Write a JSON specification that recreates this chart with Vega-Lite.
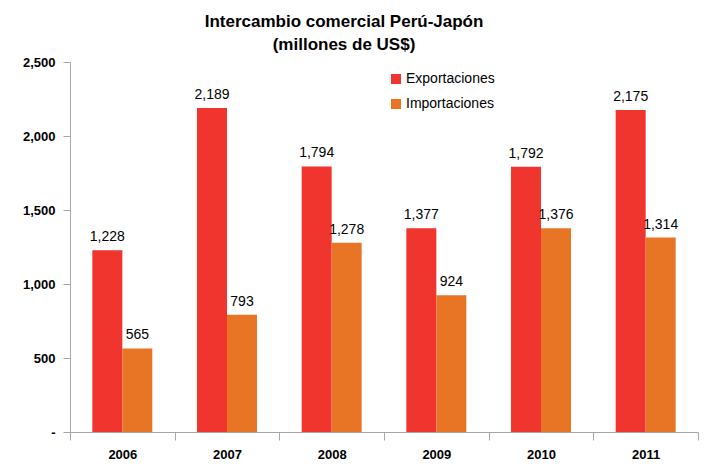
{
  "$schema": "https://vega.github.io/schema/vega-lite/v6.json",
  "autosize": "none",
  "width": 628,
  "height": 370,
  "padding": {"left": 70, "top": 62, "right": 29, "bottom": 36},
  "background": "white",
  "config": {
    "font": "Liberation Sans",
    "view": {"stroke": null}
  },
  "title": {
    "text": ["Intercambio comercial Perú-Japón", "(millones de US$)"],
    "fontSize": 17,
    "fontWeight": "bold",
    "color": "#000000",
    "anchor": "middle",
    "frame": "group",
    "dx": -40,
    "offset": 2,
    "lineHeight": 23
  },
  "data": {
    "values": [
      {"year": "2006", "tipo": "Exportaciones", "valor": 1228},
      {"year": "2006", "tipo": "Importaciones", "valor": 565},
      {"year": "2007", "tipo": "Exportaciones", "valor": 2189},
      {"year": "2007", "tipo": "Importaciones", "valor": 793},
      {"year": "2008", "tipo": "Exportaciones", "valor": 1794},
      {"year": "2008", "tipo": "Importaciones", "valor": 1278},
      {"year": "2009", "tipo": "Exportaciones", "valor": 1377},
      {"year": "2009", "tipo": "Importaciones", "valor": 924},
      {"year": "2010", "tipo": "Exportaciones", "valor": 1792},
      {"year": "2010", "tipo": "Importaciones", "valor": 1376},
      {"year": "2011", "tipo": "Exportaciones", "valor": 2175},
      {"year": "2011", "tipo": "Importaciones", "valor": 1314}
    ]
  },
  "encoding": {
    "x": {
      "field": "year",
      "type": "nominal",
      "scale": {"paddingInner": 0, "paddingOuter": 0},
      "axis": {
        "title": null,
        "labelAngle": 0,
        "labelFontSize": 13,
        "labelFontWeight": "bold",
        "labelColor": "#000000",
        "labelPadding": 8,
        "tickBand": "extent",
        "tickSize": 8,
        "tickColor": "#A6A6A6",
        "domainColor": "#A6A6A6",
        "grid": false
      }
    },
    "xOffset": {"field": "tipo", "type": "nominal", "scale": {"paddingInner": 0, "paddingOuter": 0.745}},
    "y": {
      "field": "valor",
      "type": "quantitative",
      "scale": {"domain": [0, 2500], "nice": false},
      "axis": {
        "title": null,
        "values": [0, 500, 1000, 1500, 2000, 2500],
        "labelExpr": "datum.value == 0 ? '-\u2007\u2007\u2007' : format(datum.value, ',')",
        "labelFontSize": 13,
        "labelFontWeight": "bold",
        "labelColor": "#000000",
        "labelPadding": 8,
        "tickSize": 7,
        "tickColor": "#A6A6A6",
        "domainColor": "#A6A6A6",
        "grid": false
      }
    }
  },
  "layer": [
    {
      "mark": {"type": "bar"},
      "encoding": {
        "color": {
          "field": "tipo",
          "type": "nominal",
          "scale": {"domain": ["Exportaciones", "Importaciones"], "range": ["#EF352E", "#E87426"]},
          "legend": {
            "title": null,
            "orient": "none",
            "legendX": 319,
            "legendY": 10,
            "symbolType": "square",
            "symbolSize": 100,
            "symbolStrokeWidth": 0,
            "labelFontSize": 14,
            "labelColor": "#000000",
            "labelOffset": 3,
            "rowPadding": 11
          }
        }
      }
    },
    {
      "mark": {"type": "text", "baseline": "bottom", "dy": -6, "fontSize": 14, "color": "#000000"},
      "encoding": {
        "text": {"field": "valor", "type": "quantitative", "format": ","}
      }
    }
  ]
}
